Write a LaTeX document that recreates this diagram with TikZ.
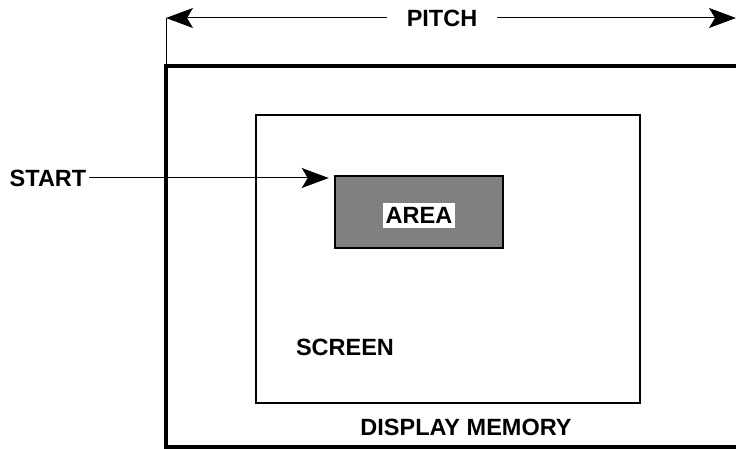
\documentclass[tikz,border=0pt]{standalone}
\usepackage{fontspec}
\setmainfont{Liberation Sans}
\usetikzlibrary{arrows.meta}
\tikzset{
  lbl/.style={font=\fontsize{23.5}{25}\selectfont\bfseries},
  bigtip/.style={-{Stealth[length=27pt,width=20pt,inset=6pt]}},
}
\begin{document}
\begin{tikzpicture}[x=1pt,y=-1pt]
\useasboundingbox (0,0) rectangle (736,449);
\coordinate (pl) at (166,18);
\coordinate (pr) at (736,18);
\coordinate (mtl) at (166,66);
\draw[line width=3.5pt] (736,66) -- (mtl) -- (166,447) -- (736,447);
\draw[line width=1pt] (pl) -- (mtl);
\node[lbl,inner xsep=20pt,inner ysep=0pt] (pitch) at (442,18) {PITCH};
\draw[line width=1pt,bigtip] (pitch.west) -- (pl);
\draw[line width=1pt,bigtip] (pitch.east) -- (pr);
\node[draw,line width=2.5pt,minimum width=384pt,minimum height=288pt] (screen) at (448,259) {};
\node[draw,line width=2.5pt,fill=black!50,minimum width=168pt,minimum height=72pt] (area) at (419,212) {};
\node[lbl,fill=white,inner sep=0pt,minimum width=72pt,minimum height=25pt] (arealbl) at (419,215.5) {AREA};
\node[lbl,inner xsep=3pt,inner ysep=0pt] (start) at (48,178) {START};
\draw[line width=1pt,bigtip,shorten >=5pt] (start.east) -- (start -| area.west);
\node[lbl] (scr) at (345,347) {SCREEN};
\node[lbl] (mem) at (466,427) {DISPLAY MEMORY};
\end{tikzpicture}
\end{document}
